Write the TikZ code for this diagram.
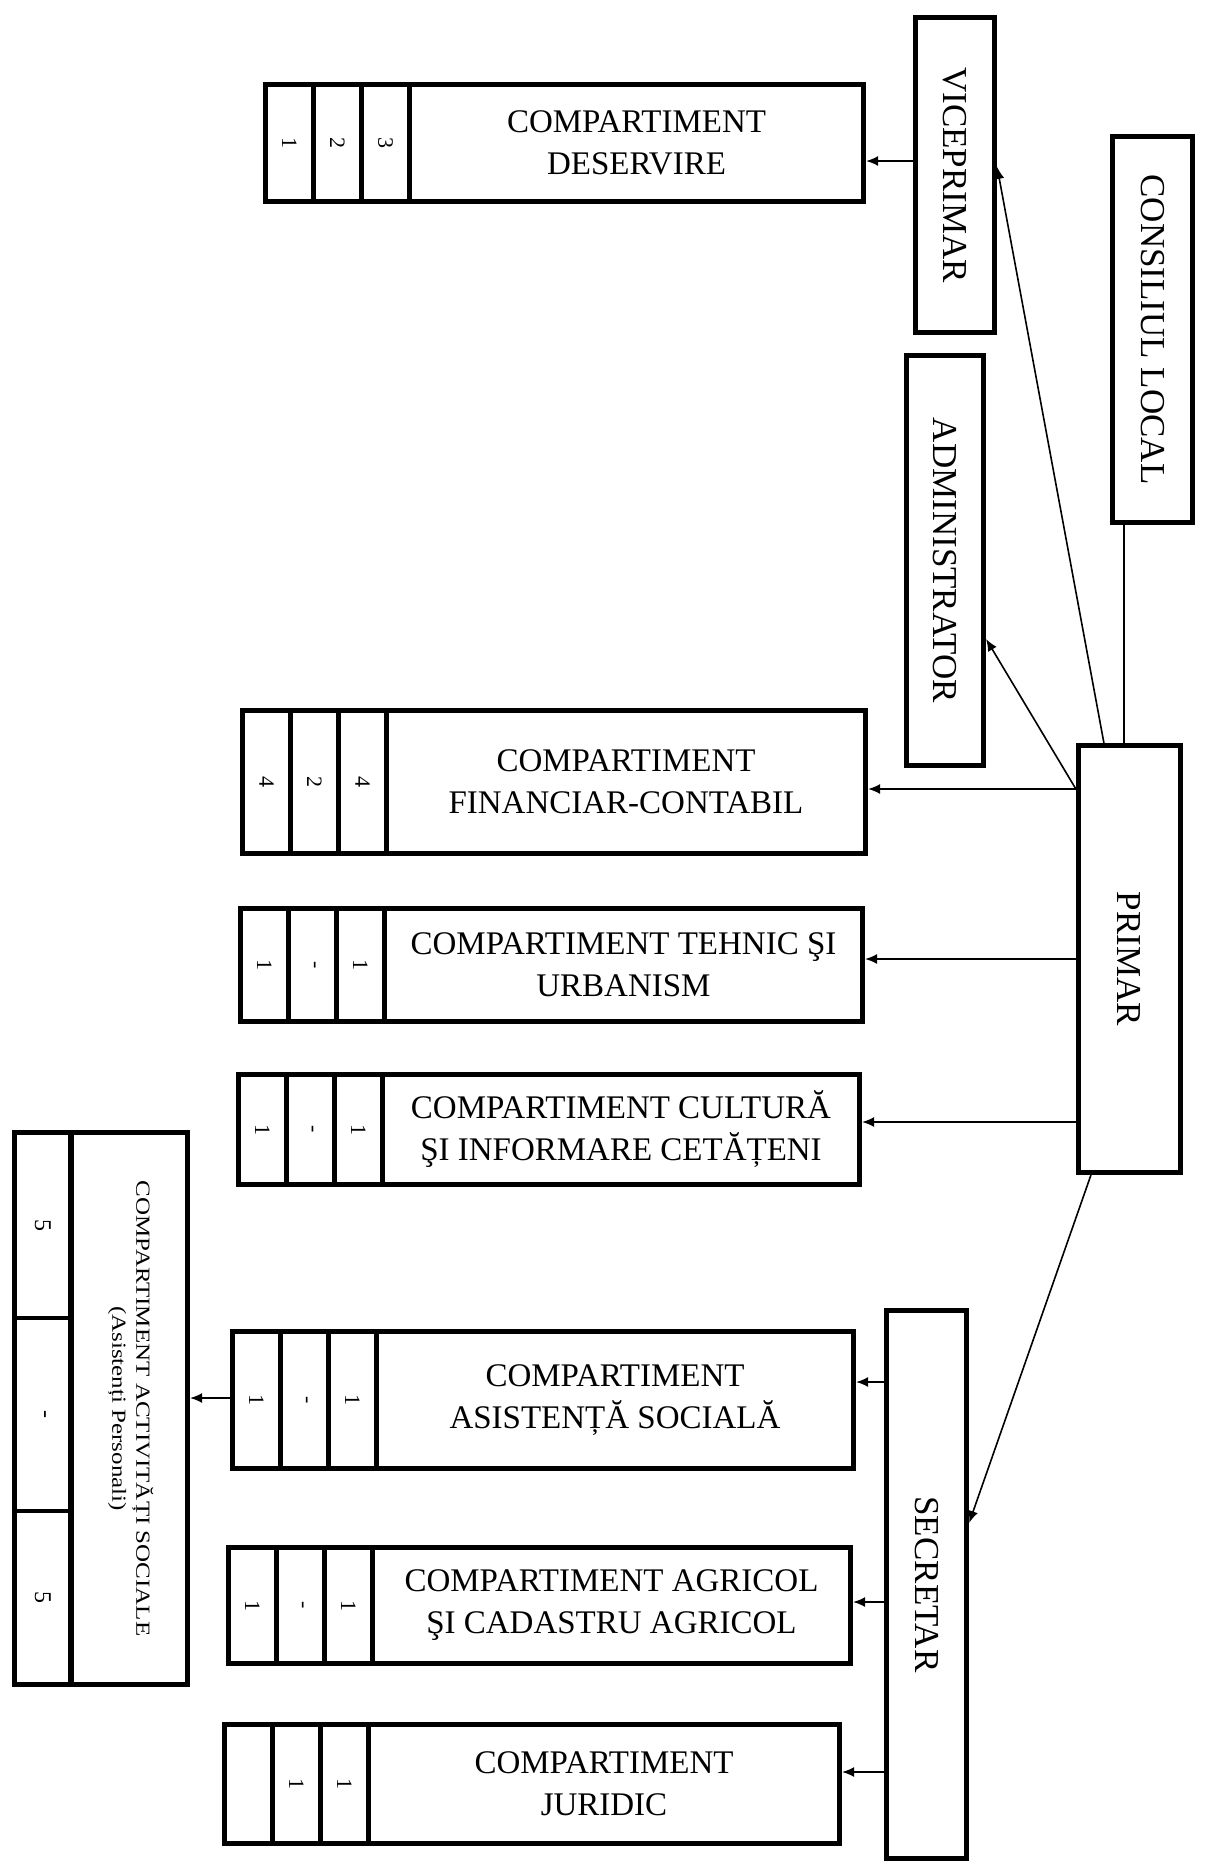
\documentclass[tikz,border=0pt]{standalone}
\usepackage{fontspec}
\setmainfont{Liberation Serif}
\usepackage{graphicx}
\usetikzlibrary{calc,arrows.meta}
\tikzset{
  vbox/.style={draw, line width=2.6pt, inner sep=0pt, font=\fontsize{17.5}{20}\selectfont},
  cellbox/.style={draw, line width=2.4pt, inner sep=0pt, minimum width=24pt, font=\fontsize{11}{13}\selectfont},
  acell/.style={draw, line width=2.4pt, inner sep=0pt, minimum width=28.25pt, font=\fontsize{12}{14}\selectfont},
  mainbox/.style={draw, line width=2.6pt, inner sep=0pt, align=center, font=\fontsize{16.5}{21}\selectfont},
  arr/.style={line width=0.8pt, -{Latex[length=6pt,width=5pt]}},
  ln/.style={line width=0.7pt}
}
\newcommand\comp[9]{%
  \pgfmathsetmacro\zxa{#2+2.5}%
  \pgfmathsetmacro\zxb{#3-2.5}%
  \pgfmathsetmacro\zya{#4+2.5}%
  \pgfmathsetmacro\zyb{#5-2.5}%
  \pgfmathsetmacro\zym{(\zya+\zyb)/2}%
  \pgfmathsetmacro\zhh{(\zyb-\zya)*0.5}%
  \pgfmathsetmacro\zmw{(\zxb-\zxa-144)*0.5}%
  \pgfmathsetmacro\zmx{(\zxa+144+\zxb)/2}%
  \node[cellbox, minimum height=\zhh pt] (#1a) at (\zxa+24,\zym) {\rotatebox{-90}{#6}};
  \node[cellbox, minimum height=\zhh pt] (#1b) at (\zxa+72,\zym) {\rotatebox{-90}{#7}};
  \node[cellbox, minimum height=\zhh pt] (#1c) at (\zxa+120,\zym) {\rotatebox{-90}{#8}};
  \node[mainbox, minimum width=\zmw pt, minimum height=\zhh pt] (#1) at (\zmx,\zym) {#9};
}
\begin{document}
\begin{tikzpicture}[x=0.5pt,y=-0.5pt]
\useasboundingbox[fill=white] (0,0) rectangle (1205,1865);

% upper level boxes
\node[vbox, minimum width=40pt, minimum height=193pt] (consiliu) at (1152.5,329.5) {\rotatebox{-90}{CONSILIUL LOCAL}};
\node[vbox, minimum width=39.5pt, minimum height=157.5pt] (vice) at (955,175) {\rotatebox{-90}{VICEPRIMAR}};
\node[vbox, minimum width=38.5pt, minimum height=205pt] (admin) at (945,560.5) {\rotatebox{-90}{ADMINISTRATOR}};
\node[vbox, minimum width=51pt, minimum height=213.5pt] (primar) at (1129.5,959) {\rotatebox{-90}{PRIMAR}};
\node[vbox, minimum width=40pt, minimum height=274pt] (secretar) at (926.5,1584.5) {\rotatebox{-90}{SECRETAR}};

% compartments
\comp{des}{263}{866}{82}{204}{1}{2}{3}{COMPARTIMENT\\DESERVIRE}
\comp{fin}{240}{868}{708}{856}{4}{2}{4}{COMPARTIMENT\\FINANCIAR-CONTABIL}
\comp{teh}{238}{865}{906}{1024}{1}{-}{1}{COMPARTIMENT TEHNIC ŞI\\URBANISM}
\comp{cul}{236}{862}{1072}{1187}{1}{-}{1}{COMPARTIMENT CULTURĂ\\ŞI INFORMARE CETĂȚENI}
\comp{asi}{230}{856}{1329}{1471}{1}{-}{1}{COMPARTIMENT\\ASISTENȚĂ SOCIALĂ}
\comp{agr}{226}{853}{1545}{1666}{1}{-}{1}{COMPARTIMENT AGRICOL\\ŞI CADASTRU AGRICOL}
\comp{jur}{222}{842}{1722}{1846}{}{1}{1}{COMPARTIMENT\\JURIDIC}

% activitati sociale
\node[acell, minimum height=92.75pt] (acta) at (42.75,1225.25) {\rotatebox{-90}{5}};
\node[acell, minimum height=96.5pt] (actb) at (42.75,1414.5) {\rotatebox{-90}{-}};
\node[acell, minimum height=86.75pt] (actc) at (42.75,1597.75) {\rotatebox{-90}{5}};
\node[draw, line width=2.6pt, inner sep=0pt, minimum width=58.25pt, minimum height=276pt,
      font=\fontsize{12.5}{15}\selectfont] (activ) at (129.25,1408.5)
  {\rotatebox{-90}{\scalebox{1}[0.8]{\begin{tabular}{@{}c@{}}COMPARTIMENT ACTIVITĂȚI SOCIALE\\(Asistenți Personali)\end{tabular}}}};

% connectors
\draw[arr] ($(vice.west)+(0,-14)$) coordinate (p1) -- (p1 -| des.east);
\draw[arr] ($(primar.west)+(0,-170)$) coordinate (p2) -- (p2 -| fin.east);
\draw[arr] (primar.west) -- (primar.west -| teh.east);
\draw[arr] ($(primar.west)+(0,163)$) coordinate (p3) -- (p3 -| cul.east);
\draw[arr] (p2) -- ($(admin.east)+(0,78.5)$);
\draw[arr] ($(primar.north west)+(28,0)$) -- ($(vice.north east)+(0,152)$);
\draw[ln] ($(consiliu.south)+(-28.5,0)$) coordinate (p4) -- (p4 |- primar.north);
\draw[arr] ($(primar.south west)+(15,0)$) -- ($(secretar.north east)+(0,215)$);
\draw[arr] ($(secretar.west)+(0,-202.5)$) coordinate (p5) -- (p5 -| asi.east);
\draw[arr] ($(secretar.west)+(0,17.5)$) coordinate (p6) -- (p6 -| agr.east);
\draw[arr] ($(secretar.west)+(0,187.5)$) coordinate (p7) -- (p7 -| jur.east);
\draw[arr] ($(asia.west)+(0,-2)$) coordinate (p8) -- (p8 -| activ.east);
\end{tikzpicture}
\end{document}
